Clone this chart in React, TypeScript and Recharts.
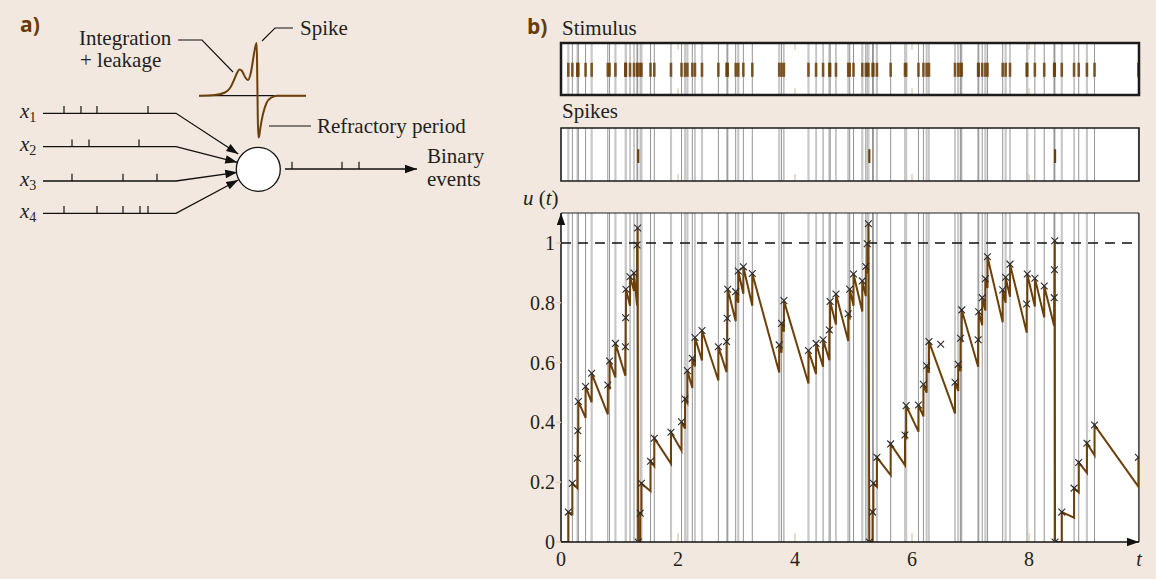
import React from "react";
import { ComposedChart, Line, Scatter, XAxis, YAxis, ReferenceLine, ReferenceDot, ReferenceArea, CartesianGrid } from "recharts";

const BG = "#f2e8df";
const BROWN = "#6c400b";
const TAN = "#e6cfb2";
const INK = "#231f20";
const GRAY_DARK = "#959595";
const GRAY_LIGHT = "#c8c8c8";
const SERIF = "'Liberation Serif', 'Times New Roman', serif";

// input events: [time, u just before, u just after]
const events: [number, number, number][] = [
	[0.125, 0, 0.1],
	[0.194, 0.093, 0.196],
	[0.279, 0.18, 0.28],
	[0.287, 0.275, 0.372],
	[0.296, 0.365, 0.47],
	[0.42, 0.415, 0.52],
	[0.524, 0.467, 0.564],
	[0.8, 0.427, 0.525],
	[0.83, 0.51, 0.605],
	[0.93, 0.55, 0.664],
	[1.1, 0.556, 0.653],
	[1.105, 0.65, 0.75],
	[1.11, 0.746, 0.845],
	[1.18, 0.79, 0.887],
	[1.248, 0.84, 0.899],
	[1.3, 0.79, 0.993],
	[1.31, 0.99, 1.05],
	[1.355, 0, 0.096],
	[1.375, 0.094, 0.196],
	[1.53, 0.17, 0.27],
	[1.595, 0.254, 0.347],
	[1.88, 0.262, 0.367],
	[2.06, 0.306, 0.402],
	[2.12, 0.379, 0.478],
	[2.16, 0.465, 0.573],
	[2.245, 0.515, 0.614],
	[2.29, 0.587, 0.684],
	[2.41, 0.607, 0.707],
	[2.69, 0.54, 0.653],
	[2.83, 0.568, 0.67],
	[2.84, 0.664, 0.748],
	[2.85, 0.742, 0.845],
	[2.986, 0.738, 0.837],
	[3.03, 0.8, 0.906],
	[3.117, 0.83, 0.92],
	[3.27, 0.79, 0.898],
	[3.73, 0.567, 0.659],
	[3.77, 0.633, 0.731],
	[3.81, 0.703, 0.807],
	[4.23, 0.53, 0.64],
	[4.36, 0.562, 0.664],
	[4.48, 0.586, 0.676],
	[4.587, 0.608, 0.709],
	[4.6, 0.7, 0.804],
	[4.7, 0.727, 0.829],
	[4.91, 0.672, 0.763],
	[4.935, 0.744, 0.845],
	[5.0, 0.79, 0.896],
	[5.15, 0.771, 0.873],
	[5.21, 0.822, 0.921],
	[5.235, 0.898, 0.997],
	[5.255, 0.977, 1.064],
	[5.325, 0, 0.1],
	[5.34, 0.098, 0.196],
	[5.4, 0.185, 0.283],
	[5.635, 0.224, 0.328],
	[5.88, 0.257, 0.358],
	[5.9, 0.351, 0.456],
	[6.11, 0.369, 0.458],
	[6.195, 0.42, 0.527],
	[6.25, 0.499, 0.589],
	[6.29, 0.566, 0.67],
	[6.735, 0.43, 0.534],
	[6.79, 0.505, 0.594],
	[6.83, 0.571, 0.681],
	[6.85, 0.668, 0.776],
	[7.13, 0.586, 0.676],
	[7.14, 0.669, 0.77],
	[7.2, 0.725, 0.817],
	[7.254, 0.774, 0.88],
	[7.29, 0.849, 0.954],
	[7.55, 0.735, 0.843],
	[7.6, 0.8, 0.885],
	[7.675, 0.82, 0.929],
	[7.96, 0.7, 0.796],
	[7.97, 0.788, 0.896],
	[8.1, 0.787, 0.882],
	[8.26, 0.751, 0.856],
	[8.43, 0.722, 0.817],
	[8.435, 0.813, 0.91],
	[8.44, 0.905, 1.007],
	[8.56, 0, 0.1],
	[8.77, 0.081, 0.18],
	[8.85, 0.166, 0.266],
	[8.99, 0.231, 0.33],
	[9.12, 0.29, 0.391],
	[9.87, 0.185, 0.283],
];
const spikeTimes = [1.32, 5.27, 8.445];
const strayMarks = [{ t: 6.49, u: 0.661 }];
const tMax = 9.88;
const uMax = 1.1;
const threshold = 1;
const timeTicks = [2, 4, 6, 8];
const uTicks = [0, 0.2, 0.4, 0.6, 0.8, 1];

// panel a) schematic, in page pixels
const waveX = [199, 215, 225, 230, 234, 237, 239.5, 242, 245, 248, 251, 253.5, 255.5, 256.7, 257.3, 257.8, 258.4, 259.2, 260.5, 263, 266.5, 271.5, 277, 306];
const waveY = [95.7, 95, 92.5, 88, 80, 73, 69.5, 71, 77, 80, 72, 57, 46, 43, 80, 118, 137.5, 136, 127, 114, 103, 97.5, 95.8, 95.7];
const inputRows = [113.3, 146.7, 181, 213.3];
const inputTicks = [
	[64, 81, 97, 148],
	[72, 89, 139],
	[72, 123, 157],
	[64, 97, 123, 140, 148],
];
const inputTips = [
	[238.3, 154],
	[237.3, 162.3],
	[237.3, 172.3],
	[238.3, 180],
];
const outputTicks = [292, 342, 359];

const trace: { t: number; u: number }[] = [{ t: 0, u: 0 }];
{
	let si = 0;
	events.forEach(([t, pre, post]) => {
		while (si < spikeTimes.length && spikeTimes[si] < t) {
			trace.push({ t: spikeTimes[si], u: 0 });
			si++;
		}
		trace.push({ t, u: pre }, { t, u: post });
	});
}
const markers = [...events.map(([t, , post]) => ({ t, u: post })), ...spikeTimes.map((t) => ({ t, u: 0 })), ...strayMarks];
const wave = waveX.map((x, i) => ({ x, y: waveY[i] }));

const arrowShape = (angle: number, len = 12, half = 4.2) => (p: any) => {
	const a = (angle * Math.PI) / 180;
	const bx = p.cx - len * Math.cos(a);
	const by = p.cy - len * Math.sin(a);
	const nx = -Math.sin(a) * half;
	const ny = Math.cos(a) * half;
	return <polygon points={`${p.cx},${p.cy} ${bx + nx},${by + ny} ${bx - nx},${by - ny}`} fill="#111" />;
};

const crossShape = (p: any) => {
	const s = 3.4;
	return (
		<path
			d={`M${p.cx - s},${p.cy - s}L${p.cx + s},${p.cy + s}M${p.cx - s},${p.cy + s}L${p.cx + s},${p.cy - s}`}
			stroke="#2a2a2a"
			strokeWidth={1.1}
			fill="none"
		/>
	);
};

const eventLines = (id: string) =>
	events.map(([t], i) => (
		<ReferenceLine
			key={`${id}-${i}`}
			x={t}
			stroke={i % 3 === 0 ? GRAY_LIGHT : GRAY_DARK}
			strokeWidth={i % 3 === 0 ? 2.2 : 1}
			zIndex={50}
		/>
	));

const tanTicks = (id: string, y1: number, y2: number) =>
	timeTicks.map((t) => (
		<ReferenceLine
			key={`${id}-${t}`}
			segment={[
				{ x: t, y: y1 },
				{ x: t, y: y2 },
			]}
			stroke={TAN}
			strokeWidth={1.5}
			ifOverflow="visible"
			zIndex={55}
		/>
	));

const timeTick = (p: any) => {
	const v = p.payload.value;
	return (
		<text x={p.x} y={p.y} dy="0.71em" textAnchor="middle" fontSize={20} fontFamily={SERIF} fill={INK} fontStyle={v === tMax ? "italic" : "normal"}>
			{v === tMax ? "t" : v}
		</text>
	);
};

const BMARGIN = { right: 17, left: 61 };

function PanelA() {
	return (
		<ComposedChart width={520} height={240} margin={{ top: 0, right: 0, bottom: 0, left: 0 }}>
			<XAxis type="number" dataKey="x" domain={[0, 520]} hide />
			<YAxis type="number" domain={[0, 240]} reversed hide />
			<ReferenceLine
				segment={[
					{ x: 199, y: 95.7 },
					{ x: 306, y: 95.7 },
				]}
				stroke="#111"
				strokeWidth={1.2}
			/>
			<Line data={wave} dataKey="y" type="monotone" stroke={BROWN} strokeWidth={2} dot={false} activeDot={false} isAnimationActive={false} />
			<Line data={[{ x: 178, y: 40 }, { x: 202, y: 40 }, { x: 233, y: 72 }]} dataKey="y" type="linear" stroke="#111" strokeWidth={1.1} dot={false} activeDot={false} isAnimationActive={false} />
			<Line data={[{ x: 262, y: 41 }, { x: 275, y: 28 }, { x: 293, y: 28 }]} dataKey="y" type="linear" stroke="#111" strokeWidth={1.1} dot={false} activeDot={false} isAnimationActive={false} />
			<ReferenceLine
				segment={[
					{ x: 269, y: 126 },
					{ x: 311, y: 126 },
				]}
				stroke="#111"
				strokeWidth={1.1}
			/>
			{inputRows.map((y, k) => (
				<Line
					key={`in-${k}`}
					data={[{ x: 43, y }, { x: 176, y }, { x: inputTips[k][0], y: inputTips[k][1] }]}
					dataKey="y"
					type="linear"
					stroke="#111"
					strokeWidth={1.3}
					dot={false}
					activeDot={false}
					isAnimationActive={false}
				/>
			))}
			{inputTicks.map((ticks, k) =>
				ticks.map((x) => (
					<ReferenceLine
						key={`it-${k}-${x}`}
						segment={[
							{ x, y: inputRows[k] },
							{ x, y: inputRows[k] - 7.3 },
						]}
						stroke="#111"
						strokeWidth={1.2}
					/>
				)),
			)}
			{inputTips.map(([x, y], k) => (
				<ReferenceDot
					key={`ia-${k}`}
					x={x}
					y={y}
					r={1}
					shape={arrowShape((Math.atan2(y - inputRows[k], x - 176) * 180) / Math.PI)}
				/>
			))}
			<ReferenceDot x={258.3} y={169.3} r={22} fill="#fff" stroke="#111" strokeWidth={1.3} />
			<Line data={[{ x: 285, y: 169 }, { x: 417, y: 169 }]} dataKey="y" type="linear" stroke="#111" strokeWidth={1.3} dot={false} activeDot={false} isAnimationActive={false} />
			{outputTicks.map((x) => (
				<ReferenceLine
					key={`ot-${x}`}
					segment={[
						{ x, y: 169 },
						{ x, y: 161.7 },
					]}
					stroke="#111"
					strokeWidth={1.2}
				/>
			))}
			<ReferenceDot x={417} y={169} r={1} shape={arrowShape(0)} />
		</ComposedChart>
	);
}

function StimulusRaster() {
	return (
		<ComposedChart width={656} height={100} margin={{ top: 43, bottom: 5, ...BMARGIN }}>
			<XAxis type="number" dataKey="t" domain={[0, tMax]} hide allowDataOverflow />
			<YAxis type="number" domain={[0, 1]} hide allowDataOverflow />
			<CartesianGrid fill="#fff" fillOpacity={1} horizontal={false} vertical={false} />
			{eventLines("s")}
			{tanTicks("st", 1, 0.87)}
			{tanTicks("sb", 0, 0.13)}
			{tanTicks("sm", -0.19, -0.33)}
			{events.map(([t], i) => (
				<ReferenceLine
					key={`sb-${i}`}
					segment={[
						{ x: t, y: 0.35 },
						{ x: t, y: 0.62 },
					]}
					stroke={BROWN}
					strokeWidth={2.6}
					strokeOpacity={0.85}
					zIndex={60}
				/>
			))}
			<ReferenceArea x1={0} x2={tMax} y1={0} y2={1} fill="none" fillOpacity={0} stroke="#1b1b1b" strokeWidth={2.5} strokeOpacity={1} zIndex={80} />
		</ComposedChart>
	);
}

function SpikeRaster() {
	return (
		<ComposedChart width={656} height={85} margin={{ top: 28, bottom: 4, ...BMARGIN }}>
			<XAxis type="number" dataKey="t" domain={[0, tMax]} hide allowDataOverflow />
			<YAxis type="number" domain={[0, 1]} hide allowDataOverflow />
			<CartesianGrid fill="#fff" fillOpacity={1} horizontal={false} vertical={false} />
			{eventLines("k")}
			{tanTicks("kb", 0, 0.13)}
			{spikeTimes.map((t) => (
				<ReferenceLine
					key={`sp-${t}`}
					segment={[
						{ x: t, y: 0.34 },
						{ x: t, y: 0.6 },
					]}
					stroke={BROWN}
					strokeWidth={2.2}
					zIndex={60}
				/>
			))}
			<ReferenceArea x1={0} x2={tMax} y1={0} y2={1} fill="none" fillOpacity={0} stroke="#1b1b1b" strokeWidth={1.6} strokeOpacity={1} zIndex={80} />
		</ComposedChart>
	);
}

function PotentialChart() {
	return (
		<ComposedChart width={656} height={394} margin={{ top: 28, right: 17, bottom: 7, left: 21 }}>
			<XAxis
				type="number"
				dataKey="t"
				domain={[0, tMax]}
				ticks={[0, ...timeTicks, tMax]}
				interval={0}
				allowDataOverflow
				height={30}
				axisLine={{ stroke: "#111", strokeWidth: 1.5 }}
				tickLine={false}
				tickSize={0}
				tickMargin={10}
				tick={timeTick}
			/>
			<YAxis
				type="number"
				domain={[0, uMax]}
				ticks={uTicks}
				interval={0}
				allowDataOverflow
				width={40}
				axisLine={{ stroke: "#111", strokeWidth: 1.5 }}
				tickLine={{ stroke: TAN, strokeWidth: 1.5 }}
				tickSize={5}
				tickMargin={1}
				tick={{ fontSize: 20, fontFamily: SERIF, fill: INK }}
				tickFormatter={(v: number) => (v === 0 || v === 1 ? String(v) : v.toFixed(1))}
			/>
			<CartesianGrid fill="#fff" fillOpacity={1} horizontal={false} vertical={false} />
			{eventLines("u")}
			{tanTicks("ub", 0, 0.03)}
			<ReferenceLine y={uMax} stroke="#222" strokeWidth={1.2} zIndex={80} />
			<ReferenceLine x={tMax} stroke="#222" strokeWidth={1.2} zIndex={80} />
			<ReferenceLine y={threshold} stroke="#111" strokeWidth={1.5} strokeDasharray="10 7" zIndex={70} />
			<Line data={trace} dataKey="u" type="linear" stroke={BROWN} strokeWidth={2} dot={false} activeDot={false} isAnimationActive={false} />
			<Scatter data={markers} dataKey="u" shape={crossShape} isAnimationActive={false} />
			<ReferenceDot x={tMax} y={0} r={1} shape={arrowShape(0)} ifOverflow="visible" />
			<ReferenceDot x={0} y={uMax} r={1} shape={arrowShape(-90)} ifOverflow="visible" />
		</ComposedChart>
	);
}

export default function App() {
	const abs = (left: number, top: number): React.CSSProperties => ({ position: "absolute", left, top });
	return (
		<div style={{ position: "absolute", left: 0, top: 0, width: 1156, height: 579, background: BG, overflow: "hidden" }}>
			<div style={abs(0, 0)}>
				<PanelA />
			</div>
			<div style={abs(500, 0)}>
				<StimulusRaster />
			</div>
			<div style={abs(500, 100)}>
				<SpikeRaster />
			</div>
			<div style={abs(500, 185)}>
				<PotentialChart />
			</div>
			<svg width={1156} height={579} style={{ position: "absolute", left: 0, top: 0, pointerEvents: "none" }} fontFamily={SERIF} fontSize={21} fill={INK}>
				<text x={20} y={32} fontFamily="'Open Sans', sans-serif" fontWeight={700} fill="#6b3a07">
					a)
				</text>
				<text x={527} y={34} fontFamily="'Open Sans', sans-serif" fontWeight={700} fill="#6b3a07">
					b)
				</text>
				<text x={79} y={45}>Integration</text>
				<text x={80} y={67}>+ leakage</text>
				<text x={300} y={35}>Spike</text>
				<text x={317} y={133}>Refractory period</text>
				<text x={427} y={163}>Binary</text>
				<text x={427} y={186}>events</text>
				{inputRows.map((y, k) => (
					<text key={`xl-${k}`} x={20} y={y + 4.5}>
						<tspan fontStyle="italic">x</tspan>
						<tspan fontSize={14} dy={4}>
							{k + 1}
						</tspan>
					</text>
				))}
				<text x={562} y={35}>Stimulus</text>
				<text x={562} y={118}>Spikes</text>
				<text x={523} y={205}>
					<tspan fontStyle="italic">u</tspan>
					<tspan> (</tspan>
					<tspan fontStyle="italic">t</tspan>
					<tspan>)</tspan>
				</text>
			</svg>
		</div>
	);
}
